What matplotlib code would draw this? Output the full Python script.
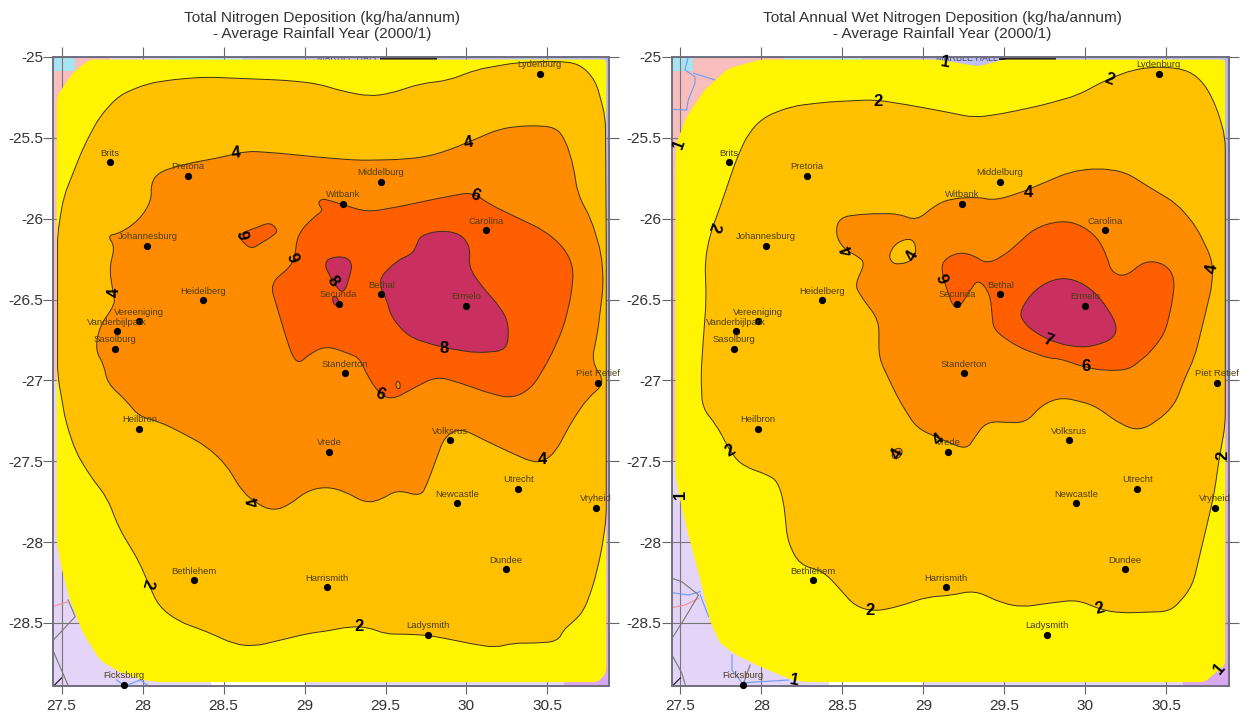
import numpy as np
import matplotlib
matplotlib.use("Agg")
import matplotlib.pyplot as plt
from matplotlib.path import Path
from matplotlib.patches import PathPatch, Polygon

plt.rcParams['font.family'] = ['Liberation Sans', 'DejaVu Sans']

TITLES = ["Total Nitrogen Deposition (kg/ha/annum)\n- Average Rainfall Year (2000/1)",
          "Total Annual Wet Nitrogen Deposition (kg/ha/annum)\n- Average Rainfall Year (2000/1)"]
X_TICKS = [27.5, 28, 28.5, 29, 29.5, 30, 30.5]
X_LABELS = ["27.5", "28", "28.5", "29", "29.5", "30", "30.5"]
Y_TICKS = [-25, -25.5, -26, -26.5, -27, -27.5, -28, -28.5]
Y_LABELS = ["-25", "-25.5", "-26", "-26.5", "-27", "-27.5", "-28", "-28.5"]

CITIES = ["Lydenburg", "Brits", "Pretoria", "Middelburg", "Witbank", "Carolina", "Johannesburg",
          "Bethal", "Ermelo", "Secunda", "Heidelberg", "Vereeniging", "Vanderbijlpark", "Sasolburg",
          "Standerton", "Piet Retief", "Heilbron", "Vrede", "Volksrus", "Utrecht", "Newcastle",
          "Vryheid", "Dundee", "Bethlehem", "Harrismith", "Ladysmith", "Ficksburg"]
CITY_LON = [30.453, 27.80, 28.28, 29.47, 29.24, 30.12, 28.03, 29.475, 30.0, 29.21, 28.375, 27.98, 27.84, 27.83,
            29.25, 30.815, 27.98, 29.152, 29.897, 30.32, 29.944, 30.80, 30.243, 28.316, 29.14, 29.765, 27.887]
CITY_LAT = [-25.103, -25.652, -25.736, -25.771, -25.907, -26.072, -26.169, -26.468, -26.54, -26.526, -26.503,
            -26.635, -26.697, -26.805, -26.955, -27.016, -27.30, -27.443, -27.371, -27.67, -27.759, -27.788,
            -28.169, -28.235, -28.28, -28.573, -28.882]

LEFT_1 = [(27.672,-25.016),(27.574,-25.093),(27.475,-25.237),(27.47,-25.3),(27.47,-28.0),(27.503,-28.173),
          (27.552,-28.358),(27.632,-28.562),(27.737,-28.729),(27.85,-28.8),(28.0,-28.853),(28.1,-28.866),(30.81,-28.866),
          (30.863,-28.81),(30.863,-25.016)]
LEFT_2 = [(27.475,-26.093),(27.512,-25.866),(27.635,-25.557),(27.733,-25.371),(27.855,-25.237),(28.027,-25.165),
          (28.199,-25.138),(28.395,-25.124),(28.64,-25.134),(28.885,-25.144),(29.081,-25.165),(29.228,-25.21),
          (29.4,-25.243),(29.522,-25.227),(29.718,-25.165),(29.89,-25.144),(30.061,-25.078),(30.306,-25.035),
          (30.551,-25.025),(30.699,-25.041),(30.797,-25.144),(30.858,-25.371),(30.863,-26.134),(30.863,-27.852),
          (30.833,-28.058),(30.784,-28.264),(30.723,-28.429),(30.65,-28.501),(30.6,-28.542),(30.564,-28.614),
          (30.429,-28.625),(30.282,-28.625),(30.184,-28.652),(30.061,-28.635),(29.89,-28.6),(29.767,-28.577),
          (29.62,-28.569),(29.498,-28.569),(29.4,-28.528),(29.277,-28.522),(29.154,-28.548),(29.032,-28.563),
          (28.86,-28.604),(28.689,-28.645),(28.566,-28.631),(28.395,-28.553),(28.223,-28.491),(28.1,-28.398),
          (28.039,-28.264),(27.978,-28.12),(27.855,-27.915),(27.782,-27.728),(27.672,-27.584),(27.586,-27.439),
          (27.525,-27.254),(27.475,-26.965)]
LEFT_4 = [(27.782,-26.103),(27.855,-26.093),(27.978,-26.01),(28.056,-25.887),(28.051,-25.784),(28.1,-25.711),
          (28.272,-25.66),(28.493,-25.619),(28.64,-25.581),(28.836,-25.594),(29.081,-25.619),(29.326,-25.639),
          (29.571,-25.635),(29.743,-25.619),(29.89,-25.577),(30.061,-25.505),(30.208,-25.443),(30.38,-25.423),
          (30.551,-25.433),(30.612,-25.515),(30.662,-25.68),(30.686,-25.845),(30.772,-26.01),(30.833,-26.216),
          (30.846,-26.402),(30.809,-26.711),(30.772,-26.882),(30.858,-27.016),(30.748,-27.109),(30.65,-27.254),
          (30.551,-27.44),(30.478,-27.501),(30.404,-27.505),(30.257,-27.439),(30.086,-27.357),(29.963,-27.295),
          (29.865,-27.346),(29.816,-27.48),(29.755,-27.645),(29.718,-27.718),(29.571,-27.676),(29.473,-27.738),
          (29.375,-27.759),(29.252,-27.687),(29.13,-27.656),(29.007,-27.687),(28.909,-27.769),(28.811,-27.806),
          (28.713,-27.769),(28.615,-27.687),(28.517,-27.522),(28.395,-27.408),(28.248,-27.326),(28.1,-27.254),
          (27.978,-27.223),(27.904,-27.13),(27.782,-27.016),(27.762,-26.903),(27.708,-26.814),(27.733,-26.67),
          (27.831,-26.526),(27.819,-26.464),(27.794,-26.299),(27.831,-26.175)]
LEFT_6 = [(29.105,-25.876),(29.154,-25.887),(29.252,-25.918),(29.387,-25.959),(29.571,-25.928),(29.816,-25.876),
          (30.037,-25.835),(30.135,-25.907),(30.306,-25.99),(30.478,-26.072),(30.6,-26.175),(30.662,-26.299),
          (30.649,-26.464),(30.6,-26.67),(30.515,-26.862),(30.404,-27.047),(30.282,-27.113),(30.135,-27.078),
          (29.963,-27.016),(29.816,-26.975),(29.693,-27.037),(29.534,-27.124),(29.448,-27.068),(29.375,-26.944),
          (29.338,-26.862),(29.277,-26.835),(29.13,-26.784),(29.02,-26.845),(28.971,-26.893),(28.929,-26.862),
          (28.885,-26.732),(28.836,-26.567),(28.787,-26.402),(28.934,-26.278),(28.958,-26.093),(29.056,-25.99),
          (29.118,-25.948),(29.081,-25.907)]
LEFT_6_ISLAND = [(28.591,-26.103),(28.652,-26.072),(28.713,-26.052),(28.787,-26.021),(28.836,-26.072),
                 (28.811,-26.103),(28.725,-26.155),(28.676,-26.186),(28.627,-26.155)]
LEFT_6_HOLE = [(29.559,-27.027),(29.578,-26.996),(29.596,-27.037),(29.578,-27.058)]
LEFT_8 = [(29.718,-26.103),(29.841,-26.072),(29.963,-26.093),(30.025,-26.175),(30.012,-26.299),(30.098,-26.423),
          (30.208,-26.546),(30.262,-26.649),(30.252,-26.814),(30.061,-26.831),(29.841,-26.794),(29.645,-26.732),
          (29.534,-26.608),(29.51,-26.505),(29.449,-26.381),(29.571,-26.258),(29.669,-26.216),(29.694,-26.155)]
LEFT_8_SMALL = [(29.125,-26.278),(29.154,-26.241),(29.252,-26.233),(29.297,-26.278),(29.277,-26.361),
                (29.252,-26.443),(29.216,-26.454),(29.142,-26.33)]
LEFT_8_TINY = [(29.167,-26.495),(29.191,-26.474),(29.216,-26.515),(29.191,-26.546)]

RIGHT_1 = [(27.99,-25.016),(27.794,-25.072),(27.647,-25.206),(27.537,-25.371),(27.475,-25.536),(27.47,-25.7),
           (27.47,-27.583),(27.5,-27.748),(27.549,-27.955),(27.61,-28.181),(27.684,-28.491),(27.745,-28.625),
           (27.843,-28.697),(27.99,-28.769),(28.186,-28.852),(28.284,-28.866),(30.735,-28.866),(30.863,-28.759),
           (30.863,-25.016),(29.498,-25.016),(29.338,-25.058),(29.093,-25.016)]
RIGHT_2 = [(27.652,-26.258),(27.684,-26.093),(27.745,-25.928),(27.843,-25.639),(27.917,-25.474),(28.015,-25.371),
           (28.186,-25.305),(28.407,-25.278),(28.701,-25.264),(28.922,-25.299),(29.142,-25.34),(29.314,-25.375),
           (29.485,-25.351),(29.73,-25.299),(29.951,-25.237),(30.123,-25.144),(30.294,-25.078),(30.466,-25.058),
           (30.637,-25.082),(30.735,-25.165),(30.809,-25.309),(30.863,-25.495),(30.863,-26.711),(30.863,-27.274),
           (30.821,-27.511),(30.797,-27.687),(30.76,-27.852),(30.711,-28.058),(30.662,-28.264),(30.588,-28.367),
           (30.515,-28.429),(30.392,-28.433),(30.221,-28.439),(30.098,-28.419),(29.951,-28.357),(29.779,-28.377),
           (29.608,-28.402),(29.485,-28.377),(29.314,-28.299),(29.167,-28.33),(29.02,-28.34),(28.848,-28.398),
           (28.701,-28.429),(28.578,-28.398),(28.48,-28.285),(28.382,-28.181),(28.235,-28.14),(28.162,-27.996),
           (28.137,-27.748),(28.1,-27.625),(28.039,-27.584),(27.892,-27.532),(27.819,-27.46),(27.721,-27.274),
           (27.635,-27.171),(27.627,-26.965),(27.635,-26.835),(27.659,-26.505)]
RIGHT_4 = [(28.48,-25.99),(28.652,-25.969),(28.848,-25.969),(28.958,-26.014),(29.069,-25.918),(29.167,-25.876),
           (29.338,-25.866),(29.436,-25.887),(29.583,-25.845),(29.73,-25.784),(29.902,-25.711),(30.074,-25.687),
           (30.245,-25.711),(30.392,-25.804),(30.564,-25.907),(30.686,-26.052),(30.784,-26.258),(30.784,-26.402),
           (30.735,-26.608),(30.674,-26.856),(30.613,-26.986),(30.551,-27.151),(30.441,-27.254),(30.331,-27.311),
           (30.221,-27.274),(30.049,-27.151),(29.853,-27.103),(29.73,-27.151),(29.632,-27.264),(29.387,-27.254),
           (29.314,-27.357),(29.265,-27.429),(29.118,-27.367),(28.958,-27.295),(28.848,-27.12),(28.725,-26.862),
           (28.725,-26.629),(28.603,-26.464),(28.578,-26.402),(28.64,-26.278),(28.603,-26.237),(28.505,-26.186),
           (28.456,-26.093)]
RIGHT_4_HOLE = [(28.787,-26.216),(28.836,-26.144),(28.934,-26.118),(28.958,-26.196),(28.934,-26.258),
                (28.848,-26.285),(28.799,-26.268)]
RIGHT_4_ISLAND = [(28.799,-27.46),(28.836,-27.414),(28.873,-27.429),(28.861,-27.47),(28.824,-27.491)]
RIGHT_6 = [(29.118,-26.258),(29.216,-26.206),(29.314,-26.227),(29.387,-26.278),(29.485,-26.237),(29.583,-26.155),
           (29.681,-26.062),(29.828,-26.014),(29.951,-26.027),(30.074,-26.113),(30.135,-26.237),(30.159,-26.33),
           (30.245,-26.361),(30.368,-26.258),(30.49,-26.278),(30.551,-26.361),(30.539,-26.505),(30.49,-26.711),
           (30.392,-26.835),(30.343,-26.872),(30.27,-26.934),(30.123,-26.94),(30.0,-26.92),(29.828,-26.862),
           (29.779,-26.866),(29.583,-26.794),(29.436,-26.691),(29.424,-26.608),(29.412,-26.464),(29.338,-26.371),
           (29.289,-26.443),(29.216,-26.557),(29.179,-26.536),(29.154,-26.464),(29.113,-26.34)]
RIGHT_7 = [(29.596,-26.567),(29.681,-26.443),(29.804,-26.371),(29.926,-26.371),(30.049,-26.443),(30.147,-26.567),
           (30.201,-26.68),(30.159,-26.753),(30.0,-26.8),(29.828,-26.773),(29.681,-26.701),(29.608,-26.629)]

# contour labels: text, lon, lat, rotation
LEFT_LABELS = [("4",28.578,-25.592,5),("4",30.012,-25.532,10),("6",30.054,-25.856,-20),("6",28.64,-26.099,100),
               ("6",28.949,-26.231,110),("8",29.174,-26.386,-55),("4",27.828,-26.458,90),("8",29.86,-26.804,0),
               ("6",29.468,-27.089,-20),("4",30.468,-27.49,0),("4",28.689,-27.753,105),("2",28.032,-28.254,-105),
               ("2",29.338,-28.522,0)]
RIGHT_LABELS = [("1",29.137,-25.031,-10),("2",28.72,-25.278,0),("2",30.147,-25.14,-20),("1",27.493,-25.54,70),
                ("2",27.708,-26.052,-110),("4",29.645,-25.835,0),("4",28.534,-26.196,110),("4",28.929,-26.227,60),
                ("6",29.135,-26.361,110),("4",30.784,-26.309,80),("7",29.767,-26.753,-20),("6",30.005,-26.913,0),
                ("4",29.093,-27.367,40),("4",28.836,-27.456,60),("2",27.806,-27.435,30),("2",30.846,-27.464,90),
                ("1",27.5,-27.707,90),("2",28.672,-28.425,0),("2",30.086,-28.408,15),("1",28.203,-28.858,-10),
                ("1",30.828,-28.784,50)]

# thin base-map lines under the contours: vertices, colour, width
LEFT_MAP_LINES = [([(27.45,-28.605),(27.584,-28.461),(27.54,-28.358)], "#777777", 0.8),
                  ([(27.45,-28.678),(27.542,-28.89)], "#777777", 0.8),
                  ([(27.45,-28.397),(27.542,-28.368)], "#F09090", 0.8),
                  ([(27.84,-28.853),(27.892,-28.89),(27.985,-28.853),(28.028,-28.884)], "#6C9CF0", 0.8),
                  ([(27.455,-28.885),(27.5,-28.84)], "#111111", 0.8),
                  ([(29.47,-25.012),(29.81,-25.012)], "#222222", 1.4)]
RIGHT_MAP_LINES = [([(27.548,-25.0),(27.528,-25.08),(27.59,-25.122),(27.59,-25.163),(27.548,-25.266),
                     (27.538,-25.328),(27.456,-25.324)], "#6C9CF0", 0.8),
                   ([(27.58,-25.10),(27.713,-25.142)], "#6C9CF0", 0.8),
                   ([(27.448,-28.313),(27.55,-28.327),(27.622,-28.307)], "#6C9CF0", 0.8),
                   ([(27.622,-28.327),(27.674,-28.461)], "#6C9CF0", 0.8),
                   ([(27.448,-28.405),(27.53,-28.389),(27.612,-28.348)], "#F09090", 0.8),
                   ([(27.448,-28.595),(27.52,-28.482),(27.612,-28.327),(27.509,-28.245),(27.448,-28.224)], "#777777", 0.8),
                   ([(27.448,-28.698),(27.509,-28.811),(27.53,-28.884)], "#777777", 0.8),
                   ([(27.818,-28.698),(27.818,-28.791),(27.88,-28.871),(28.003,-28.863),(28.168,-28.853)], "#6C9CF0", 0.8),
                   ([(27.93,-28.76),(27.89,-28.871)], "#777777", 0.8),
                   ([(27.455,-28.885),(27.5,-28.84)], "#111111", 0.8),
                   ([(29.47,-25.012),(29.81,-25.012)], "#222222", 1.4)]
MAP_NAME = "MARBLE HALL"
MAP_NAME_LON = 29.27
MAP_NAME_LAT = -25.012

YELLOW, AMBER, ORANGE, RED, MAGENTA = "#FFF500", "#FFC000", "#FF8C00", "#FF5F00", "#C9305F"
EDGE = "#3a3020"
CORNER = 0.07
YELLOW_CORNER = 0.025


def blob(ax, pts, color, z, edge=True, corner=CORNER):
    p = np.array(pts)
    n = len(p)
    nxt = np.roll(p, -1, axis=0)
    prv = np.roll(p, 1, axis=0)
    verts, codes = [], []
    for i in range(n):
        d_in = np.linalg.norm(p[i] - prv[i])
        d_out = np.linalg.norm(nxt[i] - p[i])
        a = p[i] + (prv[i] - p[i]) * min(0.5, corner / d_in)
        b = p[i] + (nxt[i] - p[i]) * min(0.5, corner / d_out)
        verts += [a, p[i], b]
        codes += [Path.MOVETO if i == 0 else Path.LINETO, Path.CURVE3, Path.CURVE3]
    verts.append(verts[0])
    codes.append(Path.LINETO)
    ax.add_patch(PathPatch(Path(verts, codes), facecolor=color,
                           edgecolor=EDGE if edge else "none", lw=0.7 if edge else 0, zorder=z))


def panel(rect, title, title_x, xlim, layers, labels, map_lines, pink_bottom, pink_right):
    ax = fig.add_axes(rect)
    ax.set_xlim(*xlim)
    ax.set_ylim(-28.89, -25.0)
    ax.set_facecolor("#E4D4F8")
    ax.set_axisbelow(True)
    ax.grid(True, color="#777777", lw=0.8, zorder=0.5)
    bg = [([(xlim[0],-25),(pink_right,-25),(pink_right,pink_bottom),(xlim[0],pink_bottom)], "#F8BEBE"),
          ([(xlim[0],-25),(27.58,-25),(27.58,-25.085),(xlim[0],-25.085)], "#A8E4F0"),
          ([(28.14,-25),(28.62,-25),(28.62,-25.03),(28.14,-25.03)], "#BDE3F5"),
          ([(28.62,-25),(xlim[1],-25),(xlim[1],-25.06),(28.62,-25.06)], "#C0C0F5"),
          ([(30.86,-25),(xlim[1],-25),(xlim[1],-27.0),(30.86,-27.0)], "#B4B4F0"),
          ([(30.6,-27.0),(xlim[1],-27.0),(xlim[1],-28.89),(30.6,-28.89)], "#D8A8F0"),
          ([(28.42,-28.86),(29.0,-28.86),(29.0,-28.89),(28.42,-28.89)], "#FFFFFF")]
    for pts, col in bg:
        ax.add_patch(Polygon(pts, closed=True, facecolor=col, edgecolor="none", zorder=0.2))
    for pts, col, lw in map_lines:
        arr = np.array(pts)
        ax.plot(arr[:, 0], arr[:, 1], color=col, lw=lw, zorder=1)
    ax.text(MAP_NAME_LON, MAP_NAME_LAT, MAP_NAME, fontsize=6.5, color="#444466", ha="center", va="center",
            zorder=1, clip_on=True)
    for i, (pts, col, edge) in enumerate(layers):
        blob(ax, pts, col, 2 + i * 0.1, edge, CORNER if edge else YELLOW_CORNER)
    ax.plot(CITY_LON, CITY_LAT, "o", color="black", ms=5.2, mec="none", zorder=5, clip_on=False)
    for name, lon, lat in zip(CITIES, CITY_LON, CITY_LAT):
        ax.annotate(name, (lon, lat), xytext=(0, 6.5), textcoords="offset points", ha="center", va="center",
                    fontsize=6.8, color="#4d3f14", zorder=6, annotation_clip=False)
    for txt, lon, lat, rot in labels:
        ax.text(lon, lat, txt, fontsize=12, rotation=rot, ha="center", va="center", color="black",
                fontweight="bold", zorder=7, clip_on=False)
    ax.set_xticks(X_TICKS, X_LABELS)
    ax.set_yticks(Y_TICKS, Y_LABELS)
    ax.tick_params(axis="x", top=True, bottom=True, length=5.5, width=0.8, color="#666666", labelsize=11.1,
                   labelcolor="#333333", pad=4.2)
    ax.tick_params(axis="y", left=True, right=True, length=7, width=0.8, color="#666666", labelsize=11.1,
                   labelcolor="#333333", pad=0.5)
    for t in ax.xaxis.get_major_ticks():
        t.tick2line.set_markersize(7)
    for s in ax.spines.values():
        s.set_color("#6f6f7f")
        s.set_linewidth(1.4)
    fig.text(title_x / W, 1 - 26 / H, title, ha="center", va="center", fontsize=11.1, color="#333333",
             linespacing=1.12)
    return ax


W, H = 1242, 717
fig = plt.figure(figsize=(W / 100, H / 100), dpi=100, facecolor="white")
panel([53.5 / W, 1 - 686 / H, 555.5 / W, 629 / H], TITLES[0], 322, (27.45, 30.88),
      [(LEFT_1, YELLOW, False), (LEFT_2, AMBER, True), (LEFT_4, ORANGE, True), (LEFT_6, RED, True),
       (LEFT_6_ISLAND, RED, True), (LEFT_6_HOLE, ORANGE, True), (LEFT_8, MAGENTA, True),
       (LEFT_8_SMALL, MAGENTA, True), (LEFT_8_TINY, MAGENTA, True)], LEFT_LABELS, LEFT_MAP_LINES, -27.0, 27.8)
panel([672 / W, 1 - 686 / H, 557 / W, 629 / H], TITLES[1], 942, (27.448, 30.886),
      [(RIGHT_1, YELLOW, False), (RIGHT_2, AMBER, True), (RIGHT_4, ORANGE, True), (RIGHT_4_HOLE, AMBER, True),
       (RIGHT_4_ISLAND, ORANGE, True), (RIGHT_6, RED, True), (RIGHT_7, MAGENTA, True)], RIGHT_LABELS,
      RIGHT_MAP_LINES, -27.5, 28.15)
fig.savefig("out.png", dpi=100)
